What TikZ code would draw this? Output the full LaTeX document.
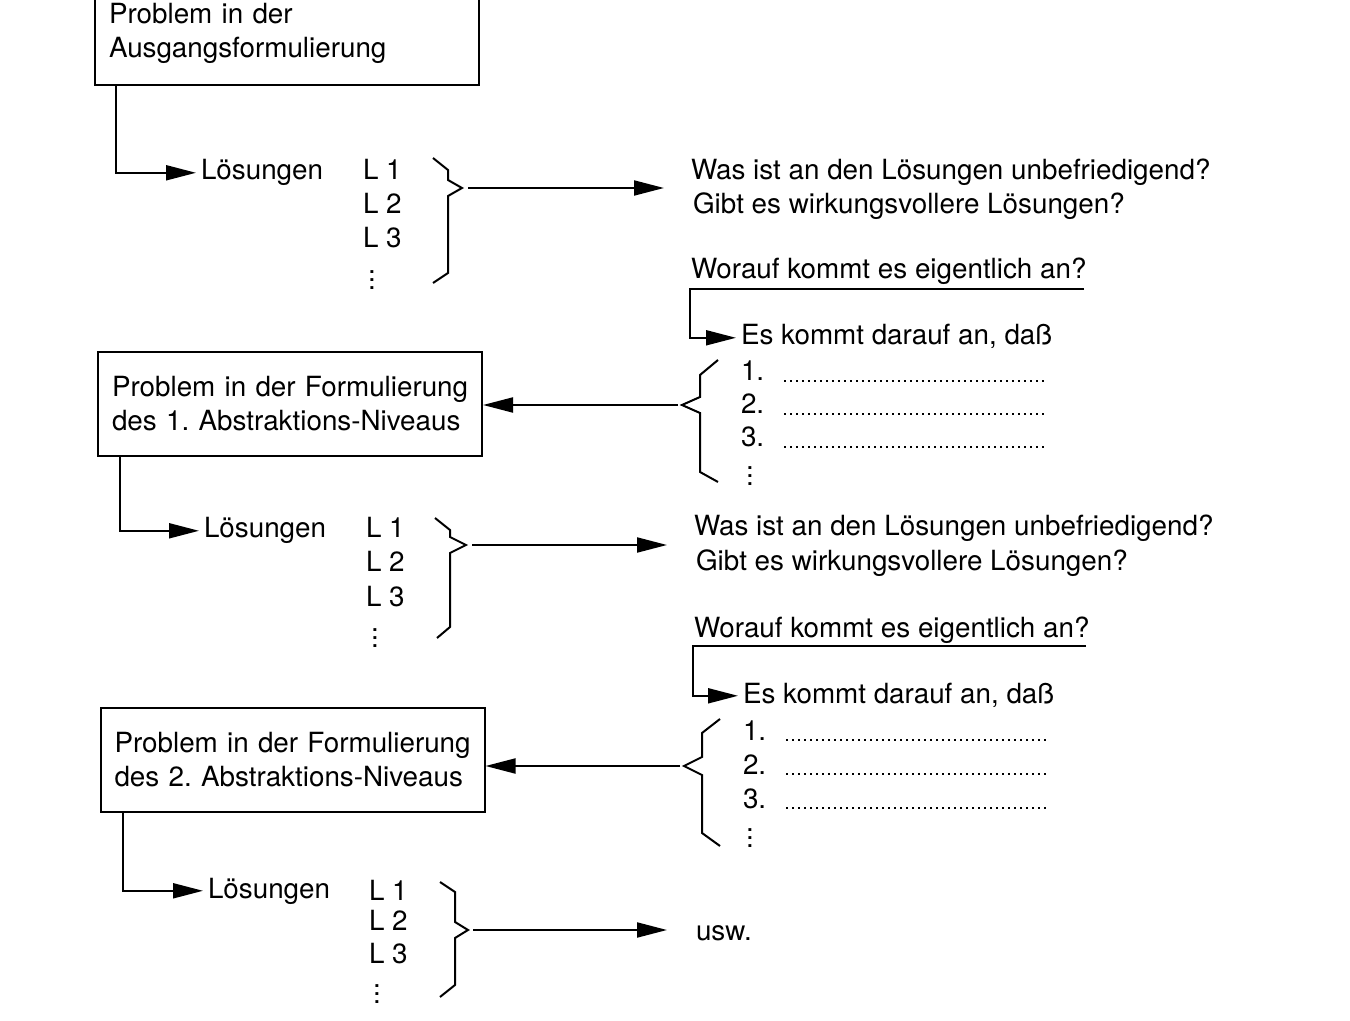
\documentclass[tikz,border=0pt]{standalone}
\usepackage{fontspec}
\setmainfont{TeX Gyre Heros}
\usetikzlibrary{arrows.meta, positioning}

\begin{document}
\frenchspacing
\begin{tikzpicture}[
  x=0.5pt, y=-0.5pt,
  >={Triangle[length=15pt, width=7.5pt]}, line width=1pt,
  font=\fontsize{13.9}{17}\selectfont,
  prob/.style    = {draw, rectangle, align=left, text width=178pt, inner xsep=7pt, minimum height=52pt},
  txt/.style     = {anchor=base west, inner sep=2pt, text height=0.72em, text depth=0pt},
  vd/.style      = {inner sep=0pt},
  dotline/.style = {line width=0.8pt, dash pattern=on 0.8pt off 2.2pt},
]
  \useasboundingbox (0,0) rectangle (1350,1021);

  % Ausgangsformulierung
  \node[prob]  (b1)    at (287,33.5) {Problem in der\\Ausgangsformulierung};
  \node[txt]   (loes1) at (196,180)  {Lösungen};
  \node[txt]   (l11)   at (358,180)  {L 1};
  \node[txt]   (l12)   at (358,214)  {L 2};
  \node[txt]   (l13)   at (358,248)  {L 3};
  \node[vd]    (lv1)   at (372,274)  {$\vdots$};

  \node[txt]   (was1)  at (686,180)  {Was ist an den Lösungen unbefriedigend?};
  \node[txt]   (gibt1) at (688,214)  {Gibt es wirkungsvollere Lösungen?};
  \node[txt]   (wor1)  at (686,279)  {Worauf kommt es eigentlich an?};
  \node[txt]   (es1)   at (736,345)  {Es kommt darauf an, daß};
  \node[txt]   (n11)   at (736,381)  {1.};
  \node[txt]   (n12)   at (736,414)  {2.};
  \node[txt]   (n13)   at (736,447)  {3.};
  \node[vd]    (nv1)   at (750,470)  {$\vdots$};
  \coordinate  (u1a)   at (690,289);
  \coordinate  (u1b)   at (1084,289);

  \draw[->] ([xshift=11pt]b1.south west) |- (loes1.west);
  \draw (433,158) -- (448,170) -- (448,180) -- (462,188) -- (448,196) -- (448,273) -- (433,283);
  \coordinate (br1) at (468,188);
  \draw[->, shorten >=11pt] (br1) -- (br1 -| was1.west);
  \draw[->] (u1b) -- (u1a) |- (es1.west);
  \draw[dotline] (n11.base east) ++(15,0) -- ++(263,0);
  \draw[dotline] (n12.base east) ++(15,0) -- ++(263,0);
  \draw[dotline] (n13.base east) ++(15,0) -- ++(263,0);
  \draw (718,360) -- (700,375) -- (700,397) -- (682,405) -- (700,413) -- (700,472) -- (718,482);
  \coordinate (br2) at (678,405);

  % 1. Abstraktions-Niveau
  \node[prob]  (b2)    at (290,404)  {\mbox{Problem in der Formulierung}\\des 1. Abstraktions-Niveaus};
  \draw[->] (br2) -- (br2 -| b2.east);
  \node[txt]   (loes2) at (199,538)  {Lösungen};
  \node[txt]   (l21)   at (361,538)  {L 1};
  \node[txt]   (l22)   at (361,572)  {L 2};
  \node[txt]   (l23)   at (361,606)  {L 3};
  \node[vd]    (lv2)   at (375,632)  {$\vdots$};

  \node[txt]   (was2)  at (689,536)  {Was ist an den Lösungen unbefriedigend?};
  \node[txt]   (gibt2) at (691,571)  {Gibt es wirkungsvollere Lösungen?};
  \node[txt]   (wor2)  at (689,638)  {Worauf kommt es eigentlich an?};
  \node[txt]   (es2)   at (738,703)  {Es kommt darauf an, daß};
  \node[txt]   (n21)   at (738,740)  {1.};
  \node[txt]   (n22)   at (738,774)  {2.};
  \node[txt]   (n23)   at (738,808)  {3.};
  \node[vd]    (nv2)   at (750,832)  {$\vdots$};
  \coordinate  (u2a)   at (693,646);
  \coordinate  (u2b)   at (1086,646);

  \draw[->] ([xshift=11.5pt]b2.south west) |- (loes2.west);
  \draw (435,518) -- (450,530) -- (450,537) -- (466,545) -- (450,553) -- (450,627) -- (437,638);
  \coordinate (br3) at (472,545);
  \draw[->, shorten >=11pt] (br3) -- (br3 -| was2.west);
  \draw[->] (u2b) -- (u2a) |- (es2.west);
  \draw[dotline] (n21.base east) ++(15,0) -- ++(263,0);
  \draw[dotline] (n22.base east) ++(15,0) -- ++(263,0);
  \draw[dotline] (n23.base east) ++(15,0) -- ++(263,0);
  \draw (720,719) -- (702,733) -- (702,757) -- (684,766) -- (702,775) -- (702,833) -- (720,846);
  \coordinate (br4) at (680,766);

  % 2. Abstraktions-Niveau
  \node[prob]  (b3)    at (292.5,760) {\mbox{Problem in der Formulierung}\\des 2. Abstraktions-Niveaus};
  \draw[->] (br4) -- (br4 -| b3.east);
  \node[txt]   (loes3) at (203,898)  {Lösungen};
  \node[txt]   (l31)   at (364,900)  {L 1};
  \node[txt]   (l32)   at (364,930)  {L 2};
  \node[txt]   (l33)   at (364,963)  {L 3};
  \node[vd]    (lv3)   at (377,988)  {$\vdots$};
  \node[txt]   (usw)   at (691,940)  {usw.};

  \draw[->] ([xshift=11.5pt]b3.south west) |- (loes3.west);
  \draw (440,882) -- (455,892) -- (455,922) -- (468,930) -- (455,938) -- (455,985) -- (440,997);
  \coordinate (br5) at (473,930);
  \draw[->, shorten >=12pt] (br5) -- (br5 -| usw.west);
\end{tikzpicture}
\end{document}
